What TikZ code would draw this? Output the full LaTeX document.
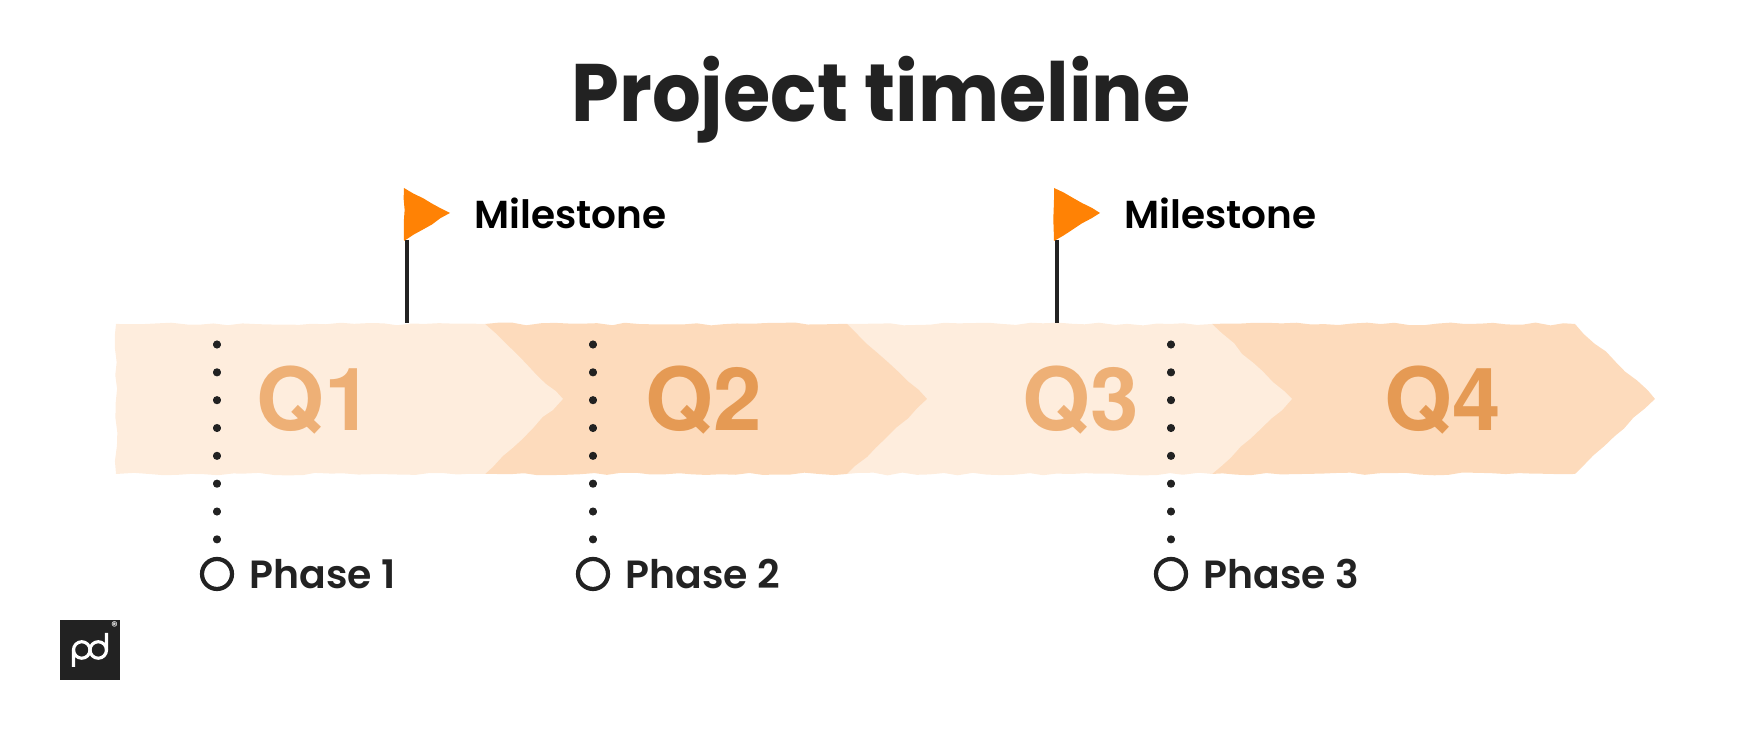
\documentclass[tikz,border=0pt]{standalone}
\usepackage{fontspec}
\setmainfont{Poppins SemiBold}
\newfontfamily\titlefont[FakeStretch=0.94]{Poppins Bold}
\newfontfamily\quarterfont{TeX Gyre Heros}
\usetikzlibrary{decorations.pathmorphing}
\definecolor{lightband}{HTML}{FEEDDD}
\definecolor{darkband}{HTML}{FDDBBC}
\definecolor{lightlabel}{HTML}{EEB076}
\definecolor{darklabel}{HTML}{E59A54}
\definecolor{flagorange}{HTML}{FF8205}
\definecolor{inkdark}{HTML}{222222}
\tikzset{
	rough/.style={decorate, decoration={random steps, segment length=4pt, amplitude=0.4pt}},
	quarter/.style={font=\quarterfont\fontsize{24.8}{24.8}\selectfont\bfseries},
	phasedot/.style={circle, draw=inkdark, line width=1.2pt, fill=white, minimum size=0.3cm, inner sep=0pt},
	phaselabel/.style={anchor=west, text=inkdark, font=\fontsize{11.2}{11.2}\selectfont, inner sep=0pt},
	milestone/.style={anchor=west, text=black, font=\fontsize{11.1}{11.1}\selectfont, inner sep=0pt},
	dotline/.style={draw=inkdark, line width=2pt, line cap=round, dash pattern=on 0.3pt off 7.62pt}
}
\begin{document}
\begin{tikzpicture}
	\useasboundingbox (0, 0) rectangle (17.6, 7.4);
	\pgfmathsetseed{7}

	% the four bands, last one first so that each tip lies on the next
	\foreach \left/\shoulder/\tip/\shade in {12.12/15.75/16.55/darkband, 8.47/12.12/12.92/lightband, 4.85/8.47/9.27/darkband, 1.16/4.85/5.63/lightband}{
		\fill[\shade, rough] (\left, 2.66) -- (\left, 4.16) -- (\shoulder, 4.16) -- (\tip, 3.41) -- (\shoulder, 2.66) -- cycle;
	}

	\draw (3.15, 3.4) node[quarter, text=lightlabel] (q1) {Q1};
	\draw (7.04, 3.4) node[quarter, text=darklabel] (q2) {Q2};
	\draw (10.81, 3.4) node[quarter, text=lightlabel] (q3) {Q3};
	\draw (14.43, 3.4) node[quarter, text=darklabel] (q4) {Q4};

	\draw (8.81, 6.4) node[text=inkdark, font=\titlefont\fontsize{23.2}{23.2}\selectfont, inner sep=0pt] (title) {Project timeline};

	% flags
	\foreach \name/\x/\tx in {first/4.07/4.74, second/10.57/11.24}{
		\coordinate (\name base) at (\x, 4.17);
		\coordinate (\name top) at (\x, 5.0);
		\draw[inkdark, line width=1.1pt] (\name base) -- (\name top);
		\fill[flagorange, decorate, decoration={random steps, segment length=3pt, amplitude=0.2pt}] (\x-0.03, 5.52) -- (\x+0.43, 5.27) -- (\x-0.03, 4.99) -- cycle;
		\draw (\tx, 5.27) node[milestone] (\name label) {Milestone};
	}

	% phases
	\foreach \n/\x in {1/2.17, 2/5.93, 3/11.71}{
		\coordinate (start\n) at (\x, 3.96);
		\draw (\x, 1.66) node[phasedot] (ring\n) {};
		\draw[dotline] (start\n) -- (ring\n);
		\draw (\x+0.32, 1.66) node[phaselabel] (phase\n) {Phase \n};
	}

	% logo
	\fill[inkdark] (0.6, 0.6) rectangle (1.2, 1.2);
	\draw[white, line width=0.9pt] (0.735, 0.73) -- (0.735, 0.9) arc[start angle=180, end angle=0, radius=0.0825] arc[start angle=180, end angle=360, radius=0.0825] -- (1.065, 1.07);
	\draw[white, line width=0.9pt] (0.735, 0.9) arc[start angle=180, end angle=360, radius=0.0825] arc[start angle=180, end angle=0, radius=0.0825];
	\draw (1.145, 1.14) node[text=white, font=\fontsize{3.5}{3.5}\selectfont, inner sep=0pt] (mark) {®};
\end{tikzpicture}
\end{document}
